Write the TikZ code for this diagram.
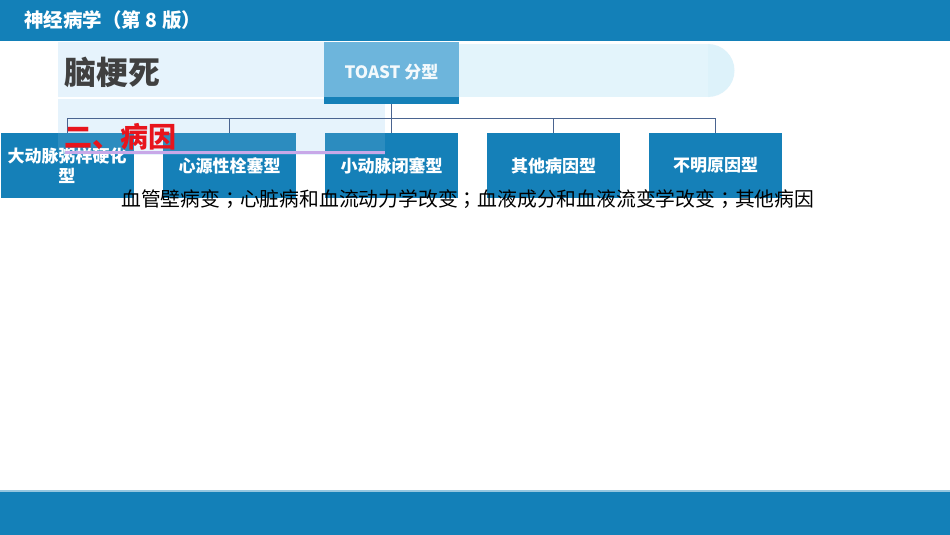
\documentclass[tikz,border=0pt]{standalone}
\usepackage{fontspec}
\setmainfont{Noto Sans CJK SC}
\newfontfamily\cjk{Noto Sans CJK SC}
\newfontfamily\cjktc{Noto Sans CJK TC}
\newcommand\fwsemi{{\cjktc ；}}
\usetikzlibrary{positioning}
\definecolor{barblue}{HTML}{1380B8}
\definecolor{boxblue}{HTML}{1580B8}
\definecolor{panel}{HTML}{E6F3FC}
\definecolor{panelr}{HTML}{E3F4FB}
\definecolor{panelarc}{HTML}{DDF2FA}
\definecolor{toastc}{HTML}{6DB5DC}
\definecolor{linec}{HTML}{4A6490}
\definecolor{titlered}{HTML}{E8141C}
\definecolor{purp}{HTML}{C8A8E8}
\definecolor{darkt}{HTML}{404040}
\tikzset{
  typebox/.style={fill=boxblue, draw=none, minimum width=133pt, minimum height=65pt,
    inner sep=0pt, text=white, font=\cjk\bfseries\fontsize{17}{20}\selectfont, align=center},
  conn/.style={draw=linec, line width=0.8pt},
}
\begin{document}
\begin{tikzpicture}[x=1pt,y=-1pt]
\useasboundingbox (0,0) rectangle (950,535);
\fill[white] (0,0) rectangle (950,535);
% top bar
\fill[barblue] (0,0) rectangle (950,41);
\node[anchor=west, text=white, font=\cjk\bfseries\fontsize{19.5}{22}\selectfont, inner sep=0pt] (title) at (24,20) {神经病学（第 8 版）};
% bottom bar
\fill[barblue!45!white] (0,490) rectangle (950,492);
\fill[barblue] (0,492) rectangle (950,535);
% left panel
\fill[panel] (58,42) rectangle (385,155);
\fill[white] (58,96.5) rectangle (324,98.5);
% right band
\fill[panelr] (459,44) rectangle (708,97);
\fill[panelarc] (708,44) arc[start angle=-90, end angle=90, radius=26.5] -- cycle;
% TOAST box
\fill[toastc] (324,42) rectangle (459,97);
\fill[boxblue] (324,97) rectangle (459,104);
\node[text=white!92!toastc, font=\cjk\bfseries\fontsize{17}{20}\selectfont] (toast) at (391.5,72) {TOAST 分型};
\coordinate (toastb) at (391,104);
% heading
\node[anchor=west, text=darkt, font=\cjk\bfseries\fontsize{32}{36}\selectfont, inner sep=0pt] (head) at (64,72) {脑梗死};
% type boxes
\node[typebox] (b1) at (67,165.5) {大动脉粥样硬化\\型};
\node[typebox] (b2) at (229.5,165.5) {\raisebox{-1.5pt}{心源性栓塞型}};
\node[typebox] (b3) at (391.5,165.5) {\raisebox{-1.5pt}{小动脉闭塞型}};
\node[typebox] (b4) at (553.5,165.5) {\raisebox{-1.5pt}{其他病因型}};
\node[typebox] (b5) at (715.5,165.5) {\raisebox{-1.5pt}{不明原因型}};
% connectors
\coordinate (hub) at (391,118);
\draw[conn] (toastb) -- (hub);
\draw[conn] (b1.north |- hub) -- (b5.north |- hub);
\foreach \b in {b1,b2,b3,b4,b5}{
  \draw[conn] (\b.north |- hub) -- (\b.north);
}
% overlay of panel over boxes
\fill[white, fill opacity=0.1] (58,133) rectangle (133.5,155);
\fill[white, fill opacity=0.1] (163,133) rectangle (296,155);
\fill[white, fill opacity=0.1] (325,133) rectangle (385,155);
% section heading
\node[anchor=west, text=titlered, font=\cjk\bfseries\fontsize{28}{32}\selectfont, inner sep=0pt] (sec) at (64,137) {二、病因};
\fill[purp] (65,150.5) rectangle (385,153.5);
% body text
\node[anchor=west, text=black, font=\cjk\fontsize{19.8}{24}\selectfont, inner sep=0pt] (body) at (121,199) {血管壁病变\fwsemi 心脏病和血流动力学改变\fwsemi 血液成分和血液流变学改变\fwsemi 其他病因};
\end{tikzpicture}
\end{document}
